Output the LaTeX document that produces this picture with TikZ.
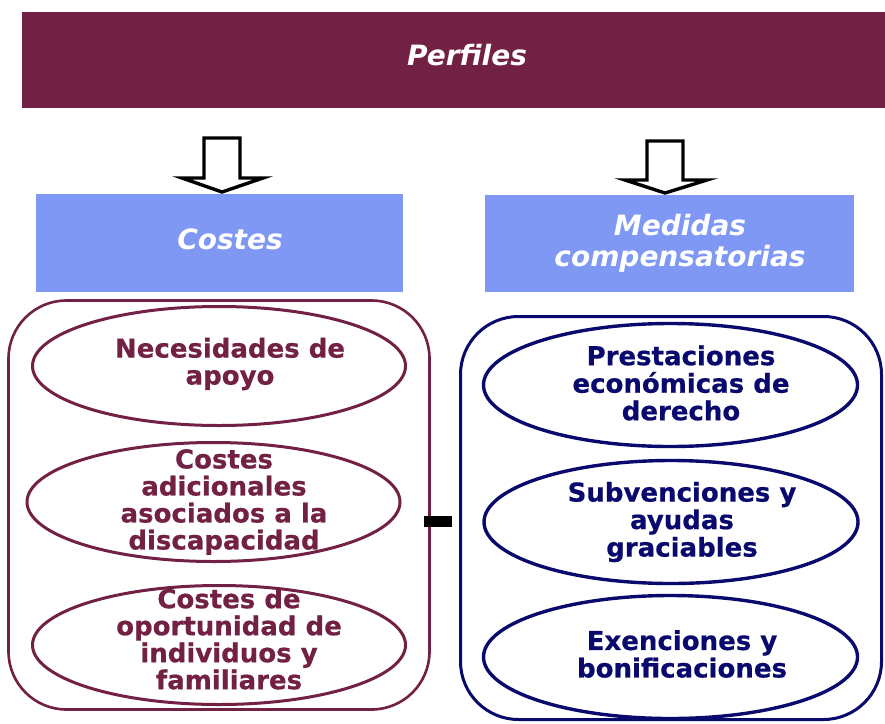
\documentclass[tikz,border=0pt]{standalone}
\usepackage{fontspec}
\setmainfont{DejaVu Sans}[BoldFeatures={FakeBold=0.6}]
\usetikzlibrary{shapes.geometric}
\definecolor{maroon}{HTML}{722043}
\definecolor{hdrblue}{HTML}{7F98F4}
\definecolor{navy}{HTML}{0A0A6E}
\begin{document}
\begin{tikzpicture}[x=1pt,y=-1pt,
  box/.style={draw=none, inner sep=0pt, outer sep=0pt},
  hdrtext/.style={text=white, font=\bfseries\itshape\fontsize{28}{31}\selectfont, align=center, inner sep=0pt},
  frameL/.style={draw=maroon, line width=2.6pt, rounded corners=58pt, inner sep=0pt},
  frameR/.style={draw=navy, line width=3pt, rounded corners=58pt, inner sep=0pt},
  ovalL/.style={ellipse, draw=maroon, line width=3pt, inner sep=0pt, minimum width=373pt, minimum height=119pt},
  ovalR/.style={ellipse, draw=navy, line width=3.4pt, inner sep=0pt, minimum width=374pt, minimum height=123pt},
  txtL/.style={text=maroon, font=\bfseries\fontsize{26}{27}\selectfont, align=center, inner sep=0pt},
  txtR/.style={text=navy, font=\bfseries\fontsize{26}{27.5}\selectfont, align=center, inner sep=0pt},
  hollowarrow/.style={draw=black, line width=3.4pt, fill=white, line join=miter}
]
\useasboundingbox (0,0) rectangle (885,723);

% top bar
\node[box, fill=maroon, minimum width=863pt, minimum height=96pt] (bar) at (453.5,60) {};
\node[hdrtext] (perf) at (467,55) {Perfiles};

% arrows
\draw[hollowarrow] (204,138) -- (240,138) -- (240,178) -- (263,178) -- (222,192) -- (182,178) -- (204,178) -- cycle;
\draw[hollowarrow] (647,141) -- (683,141) -- (683,180) -- (707,180) -- (665,193) -- (625,180) -- (647,180) -- cycle;

% headers
\node[box, fill=hdrblue, minimum width=367pt, minimum height=98pt] (costes) at (219.5,243) {};
\node[hdrtext] (costesT) at (230,239) {Costes};
\node[box, fill=hdrblue, minimum width=369pt, minimum height=97pt] (medidas) at (669.5,243.5) {};
\node[hdrtext] (medidasT) at (680,243.5) {Medidas\\compensatorias};

% frames
\node[frameL, minimum width=421pt, minimum height=409pt] (frL) at (219,505) {};
\node[frameR, minimum width=421pt, minimum height=403pt] (frR) at (671,518) {};

% minus
\node[box, fill=black, minimum width=28pt, minimum height=11pt] (minus) at (438,521.5) {};

% left ellipses
\node[ovalL] (l1) at (219,366) {};
\node[txtL] (l1t) at (230,364) {Necesidades de\\apoyo};
\node[ovalL] (l2) at (213.5,502) {};
\node[txtL] (l2t) at (224,502) {Costes\\adicionales\\asociados a la\\discapacidad};
\node[ovalL] (l3) at (219,645) {};
\node[txtL] (l3t) at (229,639) {Costes de\\oportunidad de\\individuos y\\familiares};

% right ellipses
\node[ovalR] (r1) at (670.5,385) {};
\node[txtR] (r1t) at (681,383) {Prestaciones\\económicas de\\derecho};
\node[ovalR] (r2) at (671,522) {};
\node[txtR] (r2t) at (682,522) {Subvenciones y\\ayudas\\graciables};
\node[ovalR] (r3) at (670.5,657) {};
\node[txtR] (r3t) at (682,654) {Exenciones y\\bonificaciones};
\end{tikzpicture}
\end{document}
